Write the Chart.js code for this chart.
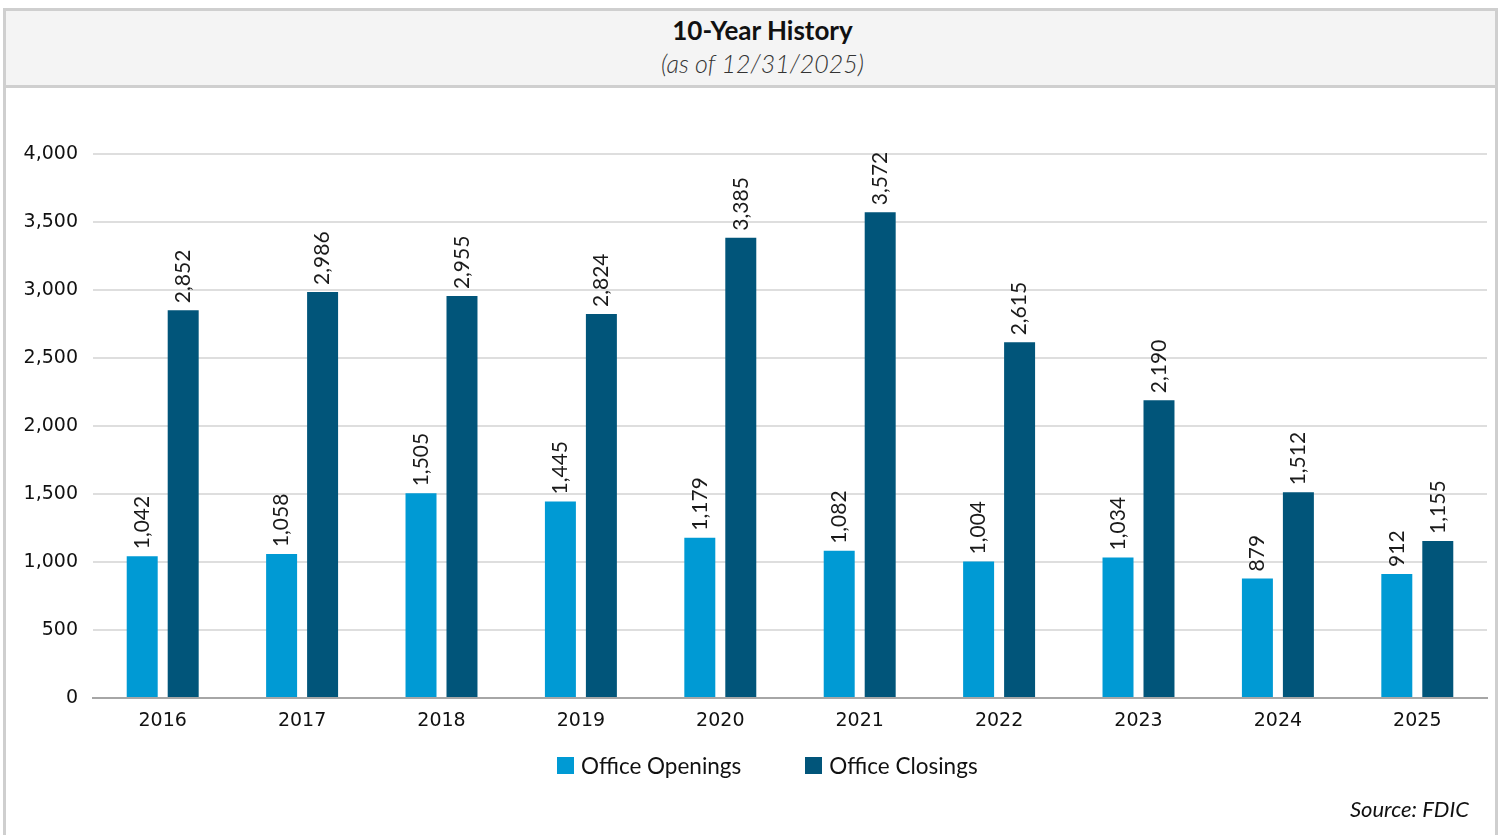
<!DOCTYPE html>
<html>
<head>
<meta charset="utf-8">
<script src="https://cdn.jsdelivr.net/npm/chart.js@4"></script>
<style>
  body { margin: 0; background: #fff; }
  #frame {
    position: absolute; left: 3px; top: 8px; width: 1489px; height: 840px;
    border: 3px solid #cfcfcf; border-bottom: none; background: #fff;
  }
  #head {
    height: 77px; background: #f4f4f4; border-bottom: 3px solid #cfcfcf;
    text-align: center; font-family: Lato, sans-serif; color: #111;
    padding-left: 24px; box-sizing: border-box;
  }
  #title { font-weight: bold; font-size: 26px; padding-top: 3px; }
  #sub { font-style: italic; font-weight: 300; font-size: 25px; color: #333; margin-top: 2px; }
  #wrap { position: absolute; left: 0; top: 80px; width: 1489px; height: 744px; }
  #legend {
    position: absolute; left: 551px; top: 741px; display: flex; gap: 64px;
    font-family: Lato, sans-serif; font-size: 22.5px; color: #111;
  }
  #legend span.item { display: flex; align-items: center; }
  #legend span.box { width: 17px; height: 17px; margin-right: 7px; display: inline-block; }
  #source {
    position: absolute; right: 26px; top: 784px;
    font-family: Lato, sans-serif; font-style: italic; font-size: 22px; color: #111;
  }
</style>
</head>
<body>
<div id="frame">
  <div id="head">
    <div id="title">10-Year History</div>
    <div id="sub">(as of 12/31/2025)</div>
  </div>
  <div id="wrap"><canvas id="chart"></canvas></div>
  <div id="legend"></div>
  <div id="source">Source: FDIC</div>
</div>
<script>
const years = ["2016", "2017", "2018", "2019", "2020", "2021", "2022", "2023", "2024", "2025"];
const openings = [1042, 1058, 1505, 1445, 1179, 1082, 1004, 1034, 879, 912];
const closings = [2852, 2986, 2955, 2824, 3385, 3572, 2615, 2190, 1512, 1155];
const yTicks = [0, 500, 1000, 1500, 2000, 2500, 3000, 3500, 4000];

// rotated value labels above each bar
const barLabels = {
  id: "barLabels",
  afterDatasetsDraw(chart) {
    const ctx = chart.ctx;
    ctx.save();
    ctx.font = "21px Lato";
    ctx.fillStyle = "#1a1a1a";
    ctx.textAlign = "left";
    ctx.textBaseline = "middle";
    chart.data.datasets.forEach((ds, i) => {
      chart.getDatasetMeta(i).data.forEach((bar, j) => {
        ctx.save();
        ctx.translate(bar.x, bar.y - 7);
        ctx.rotate(-Math.PI / 2);
        ctx.fillText(ds.data[j].toLocaleString("en-US"), 0, 0);
        ctx.restore();
      });
    });
    ctx.restore();
  }
};

const chart = new Chart(document.getElementById("chart"), {
  type: "bar",
  data: {
    labels: years,
    datasets: [
      { label: "Office Openings", data: openings, backgroundColor: "#009ad4" },
      { label: "Office Closings", data: closings, backgroundColor: "#01557a" }
    ]
  },
  options: {
    responsive: true,
    maintainAspectRatio: false,
    animation: false,
    categoryPercentage: 0.588,
    barPercentage: 0.756,
    layout: { padding: { top: 63, right: 8, left: 0, bottom: 92 } },
    plugins: {
      legend: { display: false },
      tooltip: { enabled: false }
    },
    scales: {
      x: {
        grid: { display: false, drawTicks: false },
        border: { color: "#a6a6a6", width: 2 },
        ticks: { color: "#111", padding: 12, font: { family: "DejaVu Sans", size: 19 } },
        afterFit(s) { s.height = 45; }
      },
      y: {
        min: 0, max: 4000,
        afterBuildTicks(s) { s.ticks = yTicks.map(v => ({ value: v })); },
        grid: { color: "#dedede", lineWidth: 2, drawTicks: false },
        border: { display: false },
        ticks: {
          color: "#111", padding: 15, font: { family: "DejaVu Sans", size: 19 },
          callback: v => v.toLocaleString("en-US")
        },
        afterFit(s) { s.width = 87; }
      }
    }
  },
  plugins: [barLabels]
});

// legend built from the chart's datasets
document.getElementById("legend").innerHTML = chart.data.datasets.map(ds =>
  `<span class="item"><span class="box" style="background:${ds.backgroundColor}"></span>${ds.label}</span>`
).join("");
</script>
</body>
</html>
